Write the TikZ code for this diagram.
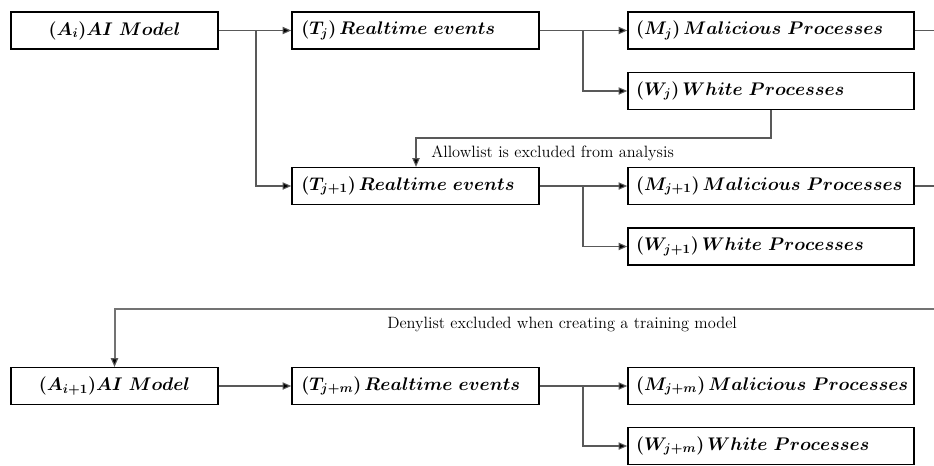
\documentclass[tikz,border=0pt]{standalone}
\usepackage{fix-cm}
\usepackage{amsmath,bm}
\usetikzlibrary{arrows.meta}
\begin{document}
\begin{tikzpicture}[x=0.75pt,y=-0.75pt,
  box/.style={draw=black, line width=1.2pt, inner ysep=0pt, minimum height=27.5pt, font=\fontsize{13.7}{16}\selectfont},
  abox/.style={box, minimum width=155.25pt, align=center},
  tbox/.style={box, inner xsep=7pt, text width=171.25pt, align=left},
  pbox/.style={box, inner xsep=6pt, text width=202.5pt, align=left},
  conn/.style={draw=black!65, line width=0.8pt},
  arr/.style={conn, -{Triangle[length=6.5pt,width=5.5pt,fill=black]}},
  deny/.style={draw=black!55, line width=1.5pt},
  lbl/.style={font=\fontsize{12.3}{14}\selectfont, inner sep=0pt}
]
\useasboundingbox (0,0) rectangle (934,465);
% row 1
\node[abox] (Ai) at (114.5,30.5) {$\bm{(A_i)AI\ Model}$};
\node[tbox] (Tj) at (415.5,30.5) {$\bm{\left(T_j\right)Realtime\ events}$};
\node[pbox] (Mj) at (771,30.5) {$\bm{\left(M_j\right)Malicious\ Processes}$};
\node[pbox] (Wj) at (771,91) {$\bm{\left(W_j\right)White\ Processes}$};
% row 2
\node[tbox] (Tj1) at (415.5,186) {$\bm{\left(T_{j+1}\right)Realtime\ events}$};
\node[pbox] (Mj1) at (771,186) {$\bm{\left(M_{j+1}\right)Malicious\ Processes}$};
\node[pbox] (Wj1) at (771,246.5) {$\bm{\left(W_{j+1}\right)White\ Processes}$};
% row 3
\node[abox] (Ai1) at (114.5,386) {$\bm{(A_{i+1})AI\ Model}$};
\node[tbox] (Tjm) at (415.5,386) {$\bm{\left(T_{j+m}\right)Realtime\ events}$};
\node[pbox] (Mjm) at (771,386) {$\bm{\left(M_{j+m}\right)Malicious\ Processes}$};
\node[pbox] (Wjm) at (771,446) {$\bm{\left(W_{j+m}\right)White\ Processes}$};
% coordinates
\coordinate (b1) at (256,30.5);
\coordinate (b2) at (583,30.5);
\coordinate (b3) at (583,186);
\coordinate (b4) at (583,386);
\coordinate (e1) at (934,30.5);
\coordinate (e2) at (934,186);
\coordinate (c2) at (416,138);
\coordinate (e3) at (934,309);
% connectors
\draw[arr] (Ai) -- (Tj);
\draw[arr] (b1) |- (Tj1.west);
\draw[arr] (Tj) -- (Mj);
\draw[arr] (b2) |- (Wj.west);
\draw[conn] (Mj.east) -- (e1);
\draw[arr] (Wj.south) |- (c2) -- (c2 |- Tj1.north);
\node[lbl, anchor=west] (allow) at (431,153) {Allowlist is excluded from analysis};
\draw[arr] (Tj1) -- (Mj1);
\draw[arr] (b3) |- (Wj1.west);
\draw[conn] (Mj1.east) -- (e2);
\draw[deny] (e3) -| ([yshift=3pt]Ai1.north);
\draw[arr] ([yshift=4pt]Ai1.north) -- (Ai1.north);
\node[lbl, anchor=west] (denyl) at (387,324) {Denylist excluded when creating a training model};
\draw[arr] (Ai1) -- (Tjm);
\draw[arr] (Tjm) -- (Mjm);
\draw[arr] (b4) |- (Wjm.west);
\end{tikzpicture}
\end{document}
